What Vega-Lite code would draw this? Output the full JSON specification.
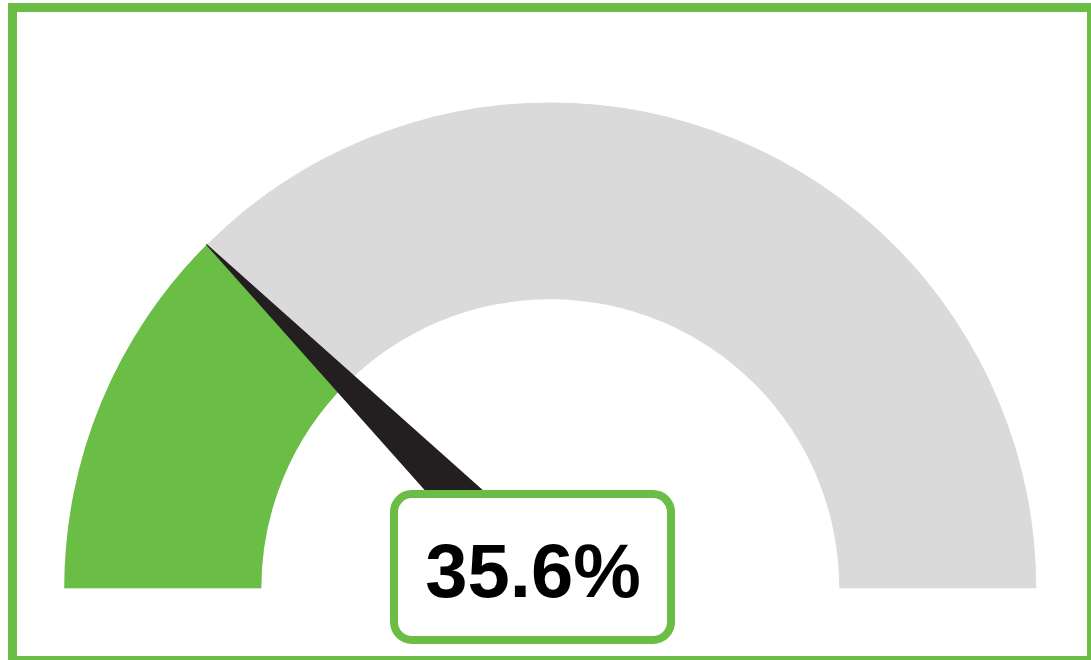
{
  "$schema": "https://vega.github.io/schema/vega-lite/v6.json",
  "autosize": "none",
  "width": 1091,
  "height": 660,
  "padding": 0,
  "background": "white",
  "config": {"view": {"stroke": null}},
  "datasets": {
    "bands": [
      {"band": "track", "start": 0, "end": 100},
      {"band": "filled", "start": 0, "end": 25}
    ],
    "needle": [
      {"nx": -0.70711, "ny": 0.70711, "w": 0},
      {"nx": 0, "ny": 0, "w": 1}
    ],
    "label": [{"text": "35.6%"}]
  },
  "encoding": {
    "x": {"type": "quantitative", "scale": {"domain": [-1.1323, 1.1126], "nice": false, "zero": false}, "axis": null},
    "y": {"type": "quantitative", "scale": {"domain": [-0.1475, 1.2105], "nice": false, "zero": false}, "axis": null}
  },
  "layer": [
    {
      "data": {"name": "bands"},
      "mark": {"type": "arc", "innerRadius": 289, "outerRadius": 486},
      "encoding": {
        "x": {"datum": 0},
        "y": {"datum": 0},
        "theta": {"field": "start", "type": "quantitative", "scale": {"domain": [0, 100], "range": [-1.5707963, 1.5707963]}},
        "theta2": {"field": "end"},
        "color": {"field": "band", "type": "nominal", "scale": {"domain": ["track", "filled"], "range": ["#d9dad9", "#6abd45"]}, "legend": null},
        "order": {"field": "end", "sort": "descending"}
      }
    },
    {
      "data": {"name": "needle"},
      "mark": {"type": "trail", "color": "#231f20"},
      "encoding": {
        "x": {"field": "nx", "type": "quantitative"},
        "y": {"field": "ny", "type": "quantitative"},
        "size": {"field": "w", "type": "quantitative", "scale": {"domain": [0, 1], "range": [0, 57]}, "legend": null}
      }
    },
    {
      "data": {"name": "label"},
      "mark": {"type": "rect", "fill": "white", "stroke": "#6abd45", "strokeWidth": 8, "cornerRadius": 18},
      "encoding": {
        "x": {"datum": -0.3216},
        "x2": {"datum": 0.2484},
        "y": {"datum": 0.194},
        "y2": {"datum": -0.1064}
      }
    },
    {
      "data": {"name": "label"},
      "mark": {"type": "text", "font": "Liberation Sans", "fontWeight": "bold", "fontSize": 76, "align": "center", "baseline": "alphabetic", "color": "black"},
      "encoding": {
        "x": {"datum": -0.0356},
        "y": {"datum": -0.0173},
        "text": {"field": "text"}
      }
    },
    {
      "data": {"name": "label"},
      "mark": {"type": "rect", "fill": null, "filled": false, "stroke": "#6abd45", "strokeWidth": 9},
      "encoding": {
        "x": {"datum": -1.1066},
        "x2": {"datum": 1.1136},
        "y": {"datum": 1.1951},
        "y2": {"datum": -0.1486}
      }
    }
  ]
}
